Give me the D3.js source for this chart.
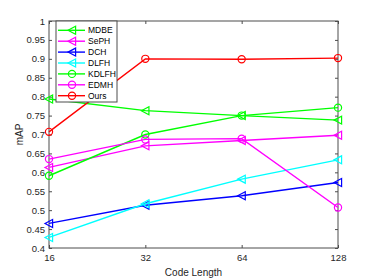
<!DOCTYPE html>
<html>
<head>
<meta charset="utf-8">
<script src="https://cdn.jsdelivr.net/npm/d3@7"></script>
<style>
  body { margin: 0; background: #fff; }
  svg { display: block; font-family: "Liberation Sans", Arial, sans-serif; }
</style>
</head>
<body>
<div class="canva"></div>
<script>
// data
const codeLengths = ["16", "32", "64", "128"];
const yTicks = [0.4, 0.45, 0.5, 0.55, 0.6, 0.65, 0.7, 0.75, 0.8, 0.85, 0.9, 0.95, 1];

const mdbe  = [0.794, 0.763, 0.750, 0.738];
const seph  = [0.613, 0.670, 0.684, 0.698];
const dch   = [0.465, 0.513, 0.538, 0.573];
const dlfh  = [0.428, 0.517, 0.582, 0.633];
const kdlfh = [0.591, 0.700, 0.750, 0.771];
const edmh  = [0.635, 0.687, 0.689, 0.507];
const ours  = [0.707, 0.900, 0.899, 0.902];

const seriesNames  = ["MDBE", "SePH", "DCH", "DLFH", "KDLFH", "EDMH", "Ours"];
const seriesValues = [mdbe, seph, dch, dlfh, kdlfh, edmh, ours];
const seriesColors = ["#00ff00", "#ff00ff", "#0000ff", "#00ffff", "#00ff00", "#ff00ff", "#ff0000"];
const seriesMarker = ["tri", "tri", "tri", "tri", "circ", "circ", "circ"];

const width = 374, height = 280;
const margin = {left: 49, right: 36, top: 21, bottom: 32};

const svg = d3.select(".canva").append("svg")
    .attr("width", width)
    .attr("height", height);

const x = d3.scalePoint()
    .domain(codeLengths)
    .range([margin.left, width - margin.right]);

const y = d3.scaleLinear()
    .domain([0.4, 1])
    .range([height - margin.bottom, margin.top]);

const axisColor = "#4d4d4d";

// box
svg.append("rect")
    .attr("x", margin.left).attr("y", margin.top)
    .attr("width", width - margin.left - margin.right)
    .attr("height", height - margin.top - margin.bottom)
    .attr("fill", "none")
    .attr("stroke", axisColor)
    .attr("stroke-width", 1);

// axes, ticks pointing inward
const tickLen = 3;
const gx = svg.append("g")
    .attr("transform", `translate(0,${height - margin.bottom})`)
    .call(d3.axisBottom(x).tickSize(-tickLen).tickPadding(6));
const gxTop = svg.append("g")
    .attr("transform", `translate(0,${margin.top})`)
    .call(d3.axisTop(x).tickSize(-tickLen).tickFormat(""));
const gy = svg.append("g")
    .attr("transform", `translate(${margin.left},0)`)
    .call(d3.axisLeft(y).tickValues(yTicks).tickSize(-tickLen).tickPadding(4)
        .tickFormat(d => d3.format("")(+d.toFixed(2))));
const gyRight = svg.append("g")
    .attr("transform", `translate(${width - margin.right},0)`)
    .call(d3.axisRight(y).tickValues(yTicks).tickSize(-tickLen).tickFormat(""));

[gx, gxTop, gy, gyRight].forEach(g => {
    g.select(".domain").remove();
    g.selectAll("line").attr("stroke", axisColor);
    g.selectAll("text")
        .attr("fill", "#262626")
        .style("font-size", "9.5px")
        .style("font-family", "'Liberation Sans', Arial, sans-serif");
});

// axis labels
svg.append("text")
    .attr("x", (margin.left + width - margin.right) / 2)
    .attr("y", 276)
    .attr("text-anchor", "middle")
    .attr("fill", "#262626")
    .style("font-size", "10px")
    .text("Code Length");

svg.append("text")
    .attr("transform", `translate(23,${(margin.top + height - margin.bottom) / 2}) rotate(-90)`)
    .attr("text-anchor", "middle")
    .attr("fill", "#262626")
    .style("font-size", "10px")
    .text("mAP");

// marker drawing
const triPath = r => `M${-r},0L${r * 0.9},${-r}L${r * 0.9},${r}Z`;
function drawMarker(g, type, color) {
    if (type === "tri") {
        g.append("path")
            .attr("d", triPath(4))
            .attr("fill", "none")
            .attr("stroke", color)
            .attr("stroke-width", 1.2);
    } else {
        g.append("circle")
            .attr("r", 3.6)
            .attr("fill", "none")
            .attr("stroke", color)
            .attr("stroke-width", 1.2);
    }
}

const line = d3.line()
    .x((d, i) => x(codeLengths[i]))
    .y(d => y(d));

seriesValues.forEach((vals, k) => {
    const g = svg.append("g");
    g.append("path")
        .datum(vals)
        .attr("d", line)
        .attr("fill", "none")
        .attr("stroke", seriesColors[k])
        .attr("stroke-width", 1.4);
    vals.forEach((v, i) => {
        const m = g.append("g")
            .attr("transform", `translate(${x(codeLengths[i])},${y(v)})`);
        drawMarker(m, seriesMarker[k], seriesColors[k]);
    });
});

// legend
const lx = 56, ly = 21, lw = 61, lh = 81, rowH = 10.9;
const legend = svg.append("g");
legend.append("rect")
    .attr("x", lx).attr("y", ly)
    .attr("width", lw).attr("height", lh)
    .attr("fill", "#fff")
    .attr("stroke", axisColor)
    .attr("stroke-width", 1);

seriesNames.forEach((name, k) => {
    const cy = ly + 9.3 + k * rowH;
    legend.append("line")
        .attr("x1", lx + 2).attr("x2", lx + 29)
        .attr("y1", cy).attr("y2", cy)
        .attr("stroke", seriesColors[k])
        .attr("stroke-width", 1.4);
    const m = legend.append("g").attr("transform", `translate(${lx + 16},${cy})`);
    drawMarker(m, seriesMarker[k], seriesColors[k]);
    legend.append("text")
        .attr("x", lx + 32)
        .attr("y", cy)
        .attr("dy", "0.35em")
        .attr("fill", "#000")
        .style("font-size", "8.5px")
        .text(name);
});
</script>
</body>
</html>
